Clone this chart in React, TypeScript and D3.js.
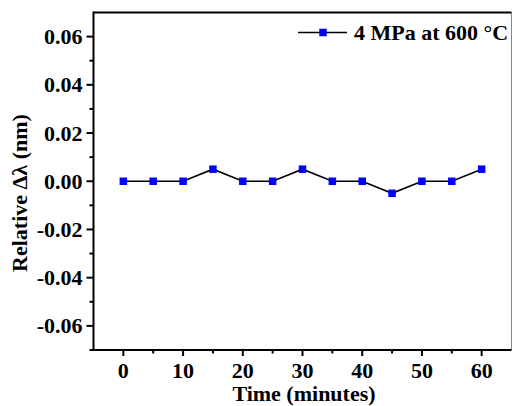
import React from "react";
import * as d3 from "d3";

const times = [0, 5, 10, 15, 20, 25, 30, 35, 40, 45, 50, 55, 60];
const deltaLambda = [0, 0, 0, 0.005, 0, 0, 0.005, 0, 0, -0.005, 0, 0, 0.005];
const xMajorTicks = [0, 10, 20, 30, 40, 50, 60];
const xMinorTicks = [5, 15, 25, 35, 45, 55];
const yMajorTicks = [-0.06, -0.04, -0.02, 0, 0.02, 0.04, 0.06];
const yMinorTicks = [-0.07, -0.05, -0.03, -0.01, 0.01, 0.03, 0.05];
const legendLabel = "4 MPa at 600 °C";

const W = 512;
const H = 406;
const left = 93.5;
const right = 511.5;
const top = 12.5;
const bottom = 350;
const font = "'Liberation Serif', 'Times New Roman', serif";
const fs = 22;

export default function App() {
  const x = d3.scaleLinear().domain([-5, 65]).range([left, right]);
  const y = d3.scaleLinear().domain([-0.07, 0.07]).range([bottom, top]);
  const line = d3
    .line<number>()
    .x((_, i) => x(times[i]))
    .y((d) => y(d));
  const sq = 7.5;

  return (
    <svg
      width={W}
      height={H}
      style={{ position: "absolute", left: 0, top: 0, background: "#fff" }}
      fontFamily={font}
      fontWeight="bold"
    >
      {/* frame */}
      <line x1={right} x2={right} y1={top} y2={bottom} stroke="#888" strokeWidth={1} />
      <line x1={left} x2={right} y1={top} y2={top} stroke="#000" strokeWidth={2} />
      <line x1={left} x2={left} y1={top - 1} y2={bottom + 1} stroke="#000" strokeWidth={2} />
      <line x1={left - 1} x2={right} y1={bottom} y2={bottom} stroke="#000" strokeWidth={2} />

      {/* x ticks */}
      {xMajorTicks.map((t) => (
        <g key={"xm" + t}>
          <line x1={x(t)} x2={x(t)} y1={bottom} y2={bottom + 6} stroke="#000" strokeWidth={2} />
          <text x={x(t)} y={378} textAnchor="middle" fontSize={fs}>
            {t}
          </text>
        </g>
      ))}
      {xMinorTicks.map((t) => (
        <line key={"xn" + t} x1={x(t)} x2={x(t)} y1={bottom} y2={bottom + 3.5} stroke="#000" strokeWidth={2} />
      ))}

      {/* y ticks */}
      {yMajorTicks.map((t) => (
        <g key={"ym" + t}>
          <line x1={left} x2={left - 7} y1={y(t)} y2={y(t)} stroke="#000" strokeWidth={2} />
          <text x={82.5} y={y(t)} dy="0.34em" textAnchor="end" fontSize={fs}>
            {d3.format(".2f")(t).replace("−", "-")}
          </text>
        </g>
      ))}
      {yMinorTicks.map((t) => (
        <line key={"yn" + t} x1={left} x2={left - 4} y1={y(t)} y2={y(t)} stroke="#000" strokeWidth={2} />
      ))}

      {/* data */}
      <path d={line(deltaLambda) || ""} fill="none" stroke="#000" strokeWidth={1.6} />
      {deltaLambda.map((v, i) => (
        <rect
          key={"p" + i}
          x={x(times[i]) - sq / 2}
          y={y(v) - sq / 2}
          width={sq}
          height={sq}
          fill="#0000ff"
        />
      ))}

      {/* legend */}
      <line x1={298} x2={347} y1={32.5} y2={32.5} stroke="#000" strokeWidth={1.6} />
      <rect x={323 - sq / 2} y={32.5 - sq / 2} width={sq} height={sq} fill="#0000ff" />
      <text x={354} y={32.5} dy="0.34em" fontSize={fs}>
        {legendLabel}
      </text>

      {/* axis titles */}
      <text x={(left + right) / 2 + 1.5} y={401} textAnchor="middle" fontSize={fs}>
        Time (minutes)
      </text>
      <text
        transform={`translate(27, ${193}) rotate(-90)`}
        textAnchor="middle"
        fontSize={fs}
      >
        Relative Δλ (nm)
      </text>
    </svg>
  );
}
